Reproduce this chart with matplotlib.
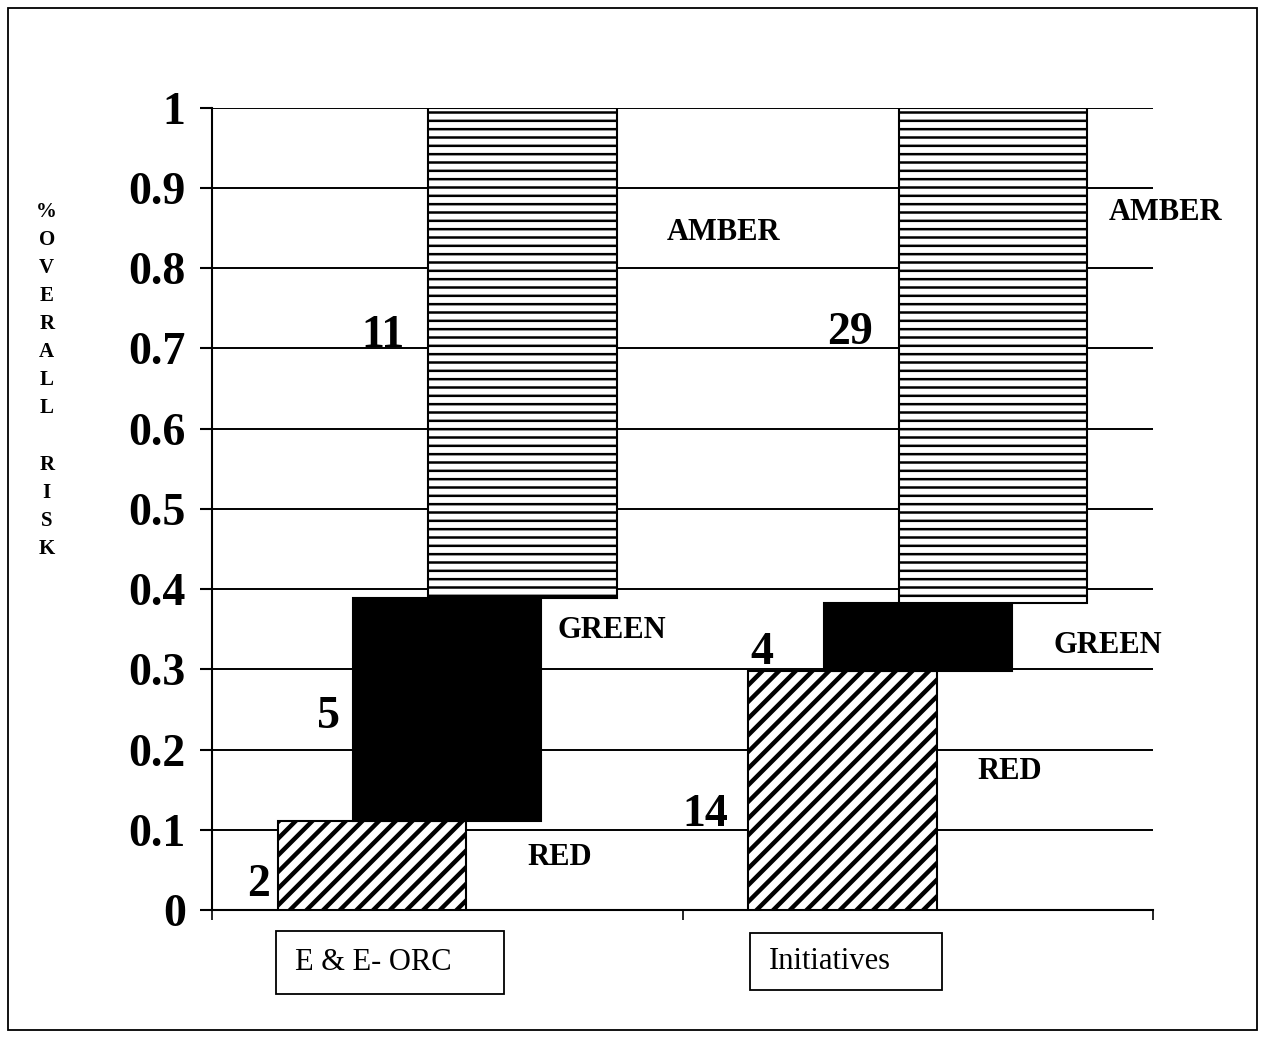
import matplotlib.pyplot as plt
from matplotlib.patches import Rectangle

plt.rcParams['font.family'] = ['Liberation Serif', 'DejaVu Serif']

categories = ["E & E- ORC", "Initiatives"]
red = [2, 14]
green = [5, 4]
amber = [11, 29]
yticks = [0, 0.1, 0.2, 0.3, 0.4, 0.5, 0.6, 0.7, 0.8, 0.9, 1]
ytick_labels = ["0", "0.1", "0.2", "0.3", "0.4", "0.5", "0.6", "0.7", "0.8", "0.9", "1"]

totals = [r + g + a for r, g, a in zip(red, green, amber)]
red_f = [r / t for r, t in zip(red, totals)]
green_f = [g / t for g, t in zip(green, totals)]
amber_f = [a / t for a, t in zip(amber, totals)]

fig = plt.figure(figsize=(12.65, 10.39), dpi=100)
ax = fig.add_axes([0.1676, 0.1242, 0.744, 0.772])

centers = [0.5, 1.5]
w = 0.40
off = 0.16

ax.set_xlim(0, 2)
ax.set_ylim(0, 1)
ax.set_yticks(yticks)
ax.set_yticklabels(ytick_labels, fontsize=33, fontweight='bold')
ax.set_xticks([0, 1, 2])
ax.set_xticklabels([])
ax.tick_params(axis='y', length=9, width=1.5, pad=10)
ax.tick_params(axis='x', length=7, width=1.2)
ax.grid(axis='y', color='black', lw=1.4, zorder=0)
ax.set_axisbelow(True)
for s in ['top', 'right']:
    ax.spines[s].set_visible(False)
ax.spines['left'].set_linewidth(1.5)
ax.spines['bottom'].set_linewidth(1.5)

# series drawn with a sideways offset, like a depth chart
with plt.rc_context({'hatch.linewidth': 3.2}):
    ax.bar([c - off for c in centers], red_f, width=w, color='white',
           edgecolor='black', hatch='//', lw=1.5, zorder=3)
ax.bar(centers, green_f, bottom=red_f, width=w, color='black',
       edgecolor='black', lw=1.5, zorder=3)
with plt.rc_context({'hatch.linewidth': 1.8}):
    ax.bar([c + off for c in centers], amber_f,
           bottom=[r + g for r, g in zip(red_f, green_f)], width=w,
           color='white', edgecolor='black', hatch='--', lw=1.5, zorder=3)

# count labels and series names (positions)
count_pos = [[(0.098, 0.031), (0.247, 0.241), (0.363, 0.716)],
             [(1.048, 0.118), (1.169, 0.320), (1.356, 0.719)]]
name_pos = [[(0.740, 0.066), (0.850, 0.349), (1.086, 0.844)],
            [(1.696, 0.172), (1.904, 0.330), (2.026, 0.870)]]
names = ["RED", "GREEN", "AMBER"]
for i in range(2):
    vals = [red[i], green[i], amber[i]]
    for j in range(3):
        x, y = count_pos[i][j]
        ax.text(x, y, str(vals[j]), fontsize=33, fontweight='bold',
                ha='center', va='center', zorder=5)
        x, y = name_pos[i][j]
        ax.text(x, y, names[j], fontsize=22, fontweight='bold',
                ha='center', va='center', clip_on=False, zorder=5)

# category label boxes under the axis
boxes = [(0.136, -0.105, 0.485, 0.079), (1.143, -0.100, 0.409, 0.071)]
for cat, (bx, by, bw, bh) in zip(categories, boxes):
    ax.add_patch(Rectangle((bx, by), bw, bh, fill=False, ec='black',
                           lw=1.3, clip_on=False))
    ax.text(bx + 0.04, by + bh / 2, cat, fontsize=22, ha='left',
            va='center', clip_on=False)

fig.text(0.037, 0.634, "%\nO\nV\nE\nR\nA\nL\nL\n\nR\nI\nS\nK",
         fontsize=15, fontweight='bold', ha='center', va='center',
         linespacing=1.54, multialignment='center')

fig.patches.append(Rectangle((0.0063, 0.0087), 0.9874, 0.9836, fill=False,
                             ec='black', lw=1.3, transform=fig.transFigure))

plt.savefig("out.png", dpi=100)
